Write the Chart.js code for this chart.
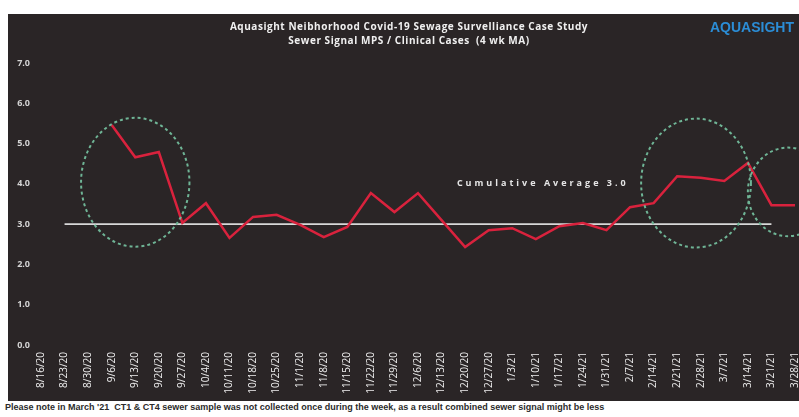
<!DOCTYPE html>
<html>
<head>
<meta charset="utf-8">
<script src="https://cdn.jsdelivr.net/npm/chart.js@4/dist/chart.umd.min.js"></script>
<style>
  body { margin: 0; width: 799px; height: 417px; overflow: hidden; background: #fff; position: relative; font-family: "Open Sans", sans-serif; }
  #panel { position: absolute; left: 8px; top: 14px; width: 806px; height: 387px; background: #2a2526; }
  #panel canvas { position: absolute; left: 0; top: 0; }
  .title { position: absolute; left: 0; width: 802px; text-align: center; color: #f0f0f0; font-weight: bold; font-size: 10px; letter-spacing: 0.55px; white-space: nowrap; }
  #logo { position: absolute; left: 702px; top: 5px; color: #2b8dd6; font: bold 14px "Liberation Sans", sans-serif; }
  #note { position: absolute; left: 5px; top: 402px; color: #2b2b2b; font: bold 9px "Liberation Sans Narrow", sans-serif; white-space: nowrap; }
</style>
</head>
<body>
<div id="panel">
  <canvas id="chart" width="806" height="387"></canvas>
  <div class="title" style="top:5px">Aquasight Neibhorhood Covid-19 Sewage Survelliance Case Study</div>
  <div class="title" style="top:19px">Sewer Signal MPS / Clinical Cases &nbsp;(4 wk MA)</div>
  <div id="logo">AQUASIGHT</div>
</div>
<div id="note">Please note in March '21 &nbsp;CT1 &amp; CT4 sewer sample was not collected once during the week, as a result combined sewer signal might be less</div>

<script>
// Week labels
const weeks = [
    '8/16/20', '8/23/20', '8/30/20', '9/6/20', '9/13/20', '9/20/20', '9/27/20',
    '10/4/20', '10/11/20', '10/18/20', '10/25/20', '11/1/20', '11/8/20', '11/15/20',
    '11/22/20', '11/29/20', '12/6/20', '12/13/20', '12/20/20', '12/27/20',
    '1/3/21', '1/10/21', '1/17/21', '1/24/21', '1/31/21', '2/7/21', '2/14/21',
    '2/21/21', '2/28/21', '3/7/21', '3/14/21', '3/21/21', '3/28/21'
]

// Sewer signal / clinical cases ratio, 4 week moving average (starts 9/6)
const signalRatio = [
    null, null, null, 5.46, 4.66, 4.79, 3.03,
    3.52, 2.66, 3.18, 3.23, 2.98, 2.68, 2.93,
    3.77, 3.30, 3.77, 3.10, 2.43, 2.85,
    2.90, 2.63, 2.95, 3.03, 2.85, 3.42, 3.52,
    4.19, 4.15, 4.07, 4.52, 3.47, 3.47
]

// Cumulative average over the period
const cumulativeAverage = 3.0
const averageFrom = 1
const averageTo = 31

const yTicks = [0, 1, 2, 3, 4, 5, 6, 7]

const averageLine = weeks.map((w, i) => (i >= averageFrom && i <= averageTo) ? cumulativeAverage : null)

// Dashed rings around the weeks worth a second look, in data units
const rings = [
    { x: 4, y: 4.04, rx: 2.3, ry: 1.6 },
    { x: 27.8, y: 4.02, rx: 2.33, ry: 1.6 },
    { x: 31.7, y: 3.8, rx: 1.7, ry: 1.1 }
]

const ringPlugin = {
    id: 'rings',
    afterDatasetsDraw(chart) {
        const {ctx, scales: {x, y}} = chart
        ctx.save()
        ctx.strokeStyle = '#6fb596'
        ctx.lineWidth = 2
        ctx.setLineDash([3, 3])
        rings.forEach(r => {
            const cx = x.getPixelForValue(r.x)
            const cy = y.getPixelForValue(r.y)
            const rx = Math.abs(x.getPixelForValue(r.x + r.rx) - cx)
            const ry = Math.abs(y.getPixelForValue(r.y + r.ry) - cy)
            ctx.beginPath()
            ctx.ellipse(cx, cy, rx, ry, 0, 0, Math.PI * 2)
            ctx.stroke()
        })
        ctx.restore()

        // label for the average line
        ctx.save()
        ctx.fillStyle = '#e6e6e6'
        ctx.font = 'bold 9px "Open Sans", sans-serif'
        ctx.letterSpacing = '3px'
        ctx.textBaseline = 'middle'
        ctx.fillText(`Cumulative Average ${cumulativeAverage.toFixed(1)}`,
                     x.getPixelForValue(17.65), y.getPixelForValue(cumulativeAverage + 1))
        ctx.restore()
    }
}

new Chart(document.getElementById('chart'), {
    type: 'line',
    data: {
        labels: weeks,
        datasets: [
            {
                label: 'Sewer Signal MPS / Clinical Cases',
                data: signalRatio,
                borderColor: '#d9223d',
                borderWidth: 2.5,
                pointRadius: 0,
                tension: 0,
                spanGaps: false
            },
            {
                label: 'Cumulative Average',
                data: averageLine,
                borderColor: '#d8d8d8',
                borderWidth: 1.8,
                pointRadius: 0,
                tension: 0
            }
        ]
    },
    options: {
        responsive: false,
        animation: false,
        layout: { padding: { top: 49, right: 12, left: 0, bottom: 0 } },
        plugins: {
            legend: { display: false },
            title: { display: false },
            tooltip: { enabled: false }
        },
        scales: {
            x: {
                grid: { display: false, drawTicks: false },
                border: { display: false },
                ticks: {
                    color: '#eeeeee',
                    font: { family: 'Open Sans', size: 10 },
                    minRotation: 90,
                    maxRotation: 90,
                    autoSkip: false,
                    padding: 7
                },
                afterFit: scale => { scale.height = 56 }
            },
            y: {
                min: 0,
                max: 7,
                grid: { display: false, drawTicks: false },
                border: { display: false },
                afterBuildTicks: scale => { scale.ticks = yTicks.map(v => ({value: v})) },
                ticks: {
                    color: '#d4d4d4',
                    font: { family: 'Open Sans', size: 9, weight: 'bold' },
                    padding: 11,
                    callback: v => v.toFixed(1)
                },
                afterFit: scale => { scale.width = 33 }
            }
        }
    },
    plugins: [ringPlugin]
})
</script>
</body>
</html>
